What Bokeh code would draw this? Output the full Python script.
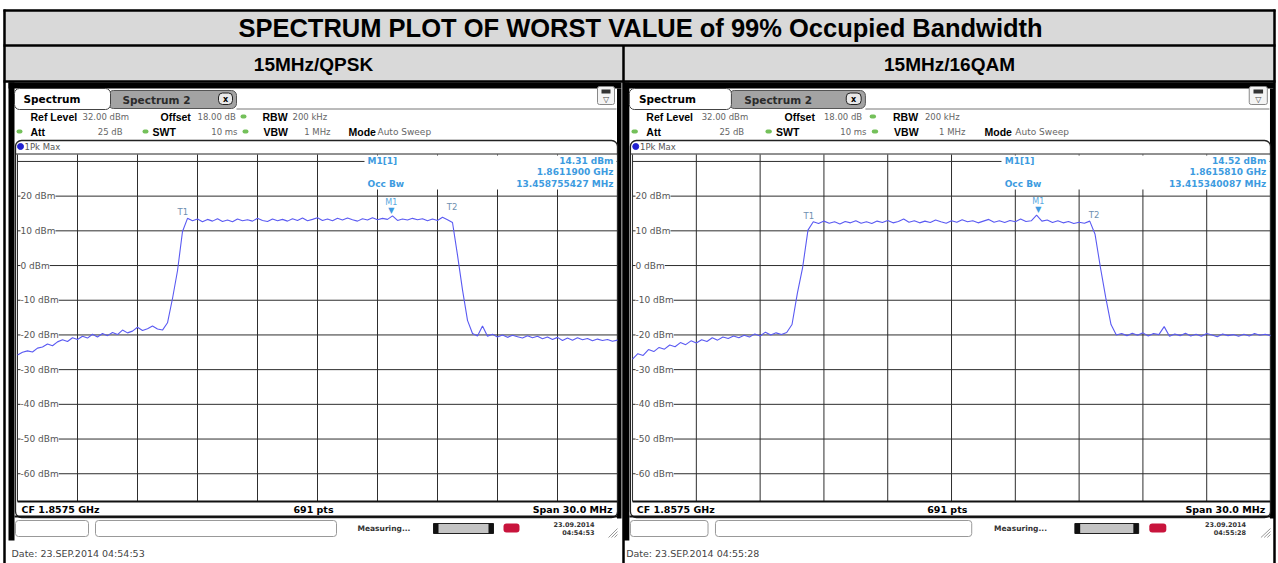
from bokeh.plotting import figure
from bokeh.models import Range1d
from bokeh.embed import file_html
from bokeh.resources import INLINE
from bokeh.core.properties import value

# ---------------- data ----------------
table_title = "SPECTRUM PLOT OF WORST VALUE of 99% Occupied Bandwidth"
panel_titles = ["15MHz/QPSK", "15MHz/16QAM"]

freq_mhz = [
    1842.50, 1842.75, 1843.00, 1843.25, 1843.50, 1843.75, 1844.00, 1844.25, 1844.50, 1844.75,
    1845.00, 1845.25, 1845.50, 1845.75, 1846.00, 1846.25, 1846.50, 1846.75, 1847.00, 1847.25,
    1847.50, 1847.75, 1848.00, 1848.25, 1848.50, 1848.75, 1849.00, 1849.25, 1849.50, 1849.75,
    1850.00, 1850.25, 1850.50, 1850.75, 1851.00, 1851.25, 1851.50, 1851.75, 1852.00, 1852.25,
    1852.50, 1852.75, 1853.00, 1853.25, 1853.50, 1853.75, 1854.00, 1854.25, 1854.50, 1854.75,
    1855.00, 1855.25, 1855.50, 1855.75, 1856.00, 1856.25, 1856.50, 1856.75, 1857.00, 1857.25,
    1857.50, 1857.75, 1858.00, 1858.25, 1858.50, 1858.75, 1859.00, 1859.25, 1859.50, 1859.75,
    1860.00, 1860.25, 1860.50, 1860.75, 1861.00, 1861.25, 1861.50, 1861.75, 1862.00, 1862.25,
    1862.50, 1862.75, 1863.00, 1863.25, 1863.50, 1863.75, 1864.00, 1864.25, 1864.50, 1864.75,
    1865.00, 1865.25, 1865.50, 1865.75, 1866.00, 1866.25, 1866.50, 1866.75, 1867.00, 1867.25,
    1867.50, 1867.75, 1868.00, 1868.25, 1868.50, 1868.75, 1869.00, 1869.25, 1869.50, 1869.75,
    1870.00, 1870.25, 1870.50, 1870.75, 1871.00, 1871.25, 1871.50, 1871.75, 1872.00, 1872.25,
    1872.50,
]

qpsk_dbm = [
    -25.8, -25.0, -24.6, -24.9, -23.8, -23.5, -22.6, -23.1, -22.0, -21.4,
    -21.9, -20.8, -21.3, -20.4, -20.9, -19.8, -20.6, -19.6, -20.2, -19.3,
    -19.9, -18.6, -19.4, -18.9, -17.8, -18.7, -18.2, -17.4, -18.3, -18.6,
    -16.5, -9.5, -1.5, 9.8, 13.6, 12.9, 13.4, 12.6, 13.3, 12.8,
    13.5, 12.7, 13.1, 12.6, 13.4, 12.9, 13.2, 12.8, 13.6, 13.0,
    12.7, 13.4, 12.9, 13.3, 12.8, 13.5, 13.0, 13.7, 12.9, 13.3,
    13.8, 13.0, 13.4, 12.9, 13.6, 13.1, 13.7, 13.2, 12.8, 13.5,
    13.1, 13.8, 13.2, 13.6, 13.3, 14.3, 13.0, 13.4, 13.1, 13.6,
    13.2, 13.5, 12.9, 13.4, 13.0, 13.9, 13.2, 12.4, 3.0, -7.0,
    -15.8, -19.6, -20.3, -17.4, -20.4, -19.8, -20.6, -20.0, -20.7, -20.1,
    -20.5, -20.9, -20.2, -20.8, -20.4, -21.1, -20.6, -21.3, -20.7, -21.6,
    -20.9, -21.5, -20.8, -21.4, -21.0, -21.7, -21.2, -21.6, -21.3, -21.8,
    -21.5,
]

qam16_dbm = [
    -27.0, -25.4, -25.9, -24.2, -24.8, -23.6, -24.1, -22.9, -23.4, -22.2,
    -22.8, -21.7, -22.3, -21.4, -21.9, -20.8, -21.5, -20.6, -21.0, -20.3,
    -20.8, -20.1, -20.6, -19.7, -20.3, -19.2, -20.0, -19.4, -19.9, -19.3,
    -17.0, -8.0, -0.5, 10.2, 12.6, 12.1, 12.8, 12.2, 12.6, 12.0,
    12.7, 12.3, 12.9, 12.2, 12.6, 12.1, 12.8, 12.4, 13.0, 12.3,
    12.7, 13.4, 12.5, 12.9, 12.3, 12.8, 12.4, 13.1, 12.6, 12.2,
    12.9, 12.5, 13.2, 12.6, 12.9, 12.3, 12.8, 13.3, 12.5, 12.9,
    12.4, 13.0, 12.6, 13.4, 12.7, 12.9, 14.5, 12.8, 13.1, 12.4,
    12.9, 12.3, 12.7, 12.1, 12.5, 12.2, 12.8, 9.0, -0.5, -9.2,
    -17.0, -20.0, -19.6, -20.2, -19.5, -20.1, -19.4, -20.3, -19.6, -19.9,
    -17.6, -20.4, -19.7, -20.2, -19.5, -20.3, -19.8, -20.4, -19.6, -20.0,
    -20.5, -19.7, -20.2, -19.9, -20.4, -19.8, -20.3, -19.6, -20.1, -19.8,
    -20.2,
]

f_start, f_stop = 1842.5, 1872.5
ref_level, bottom_level = 32.0, -68.0
grid_freq_mhz = [1842.5, 1845.5, 1848.5, 1851.5, 1854.5, 1857.5, 1860.5, 1863.5, 1866.5, 1869.5, 1872.5]
grid_dbm = [30, 20, 10, 0, -10, -20, -30, -40, -50, -60]
label_dbm = [20, 10, 0, -10, -20, -30, -40, -50, -60]
label_text = ["20 dBm", "10 dBm", "0 dBm", "-10 dBm", "-20 dBm", "-30 dBm", "-40 dBm", "-50 dBm", "-60 dBm"]

traces = [qpsk_dbm, qam16_dbm]
marker_names = ["M1", "T1", "T2"]
marker_freq = [[1861.19, 1850.77, 1864.23], [1861.581, 1850.79, 1864.20]]
marker_dbm = [[14.31, 13.6, 15.0], [14.52, 12.6, 12.8]]
marker_table = [["14.31 dBm", "1.8611900 GHz", "13.458755427 MHz"],
                ["14.52 dBm", "1.8615810 GHz", "13.415340087 MHz"]]
info_row1 = ["Ref Level", "32.00 dBm", "Offset", "18.00 dB", "RBW", "200 kHz"]
info_row2 = ["Att", "25 dB", "SWT", "10 ms", "VBW", "1 MHz", "Mode", "Auto Sweep"]
footer = ["CF 1.8575 GHz", "691 pts", "Span 30.0 MHz"]
stamp_date = ["23.09.2014", "23.09.2014"]
stamp_time = ["04:54:53", "04:55:28"]
date_lines = ["Date: 23.SEP.2014  04:54:53", "Date: 23.SEP.2014  04:55:28"]

# ---------------- figure ----------------
XL, XR, YT, YB = 0.0, 1278.0, 0.0, 563.0
p = figure(width=1278, height=563, x_range=Range1d(XL, XR), y_range=Range1d(YB, YT),
           output_backend="svg", toolbar_location=None, min_border=0)
p.axis.visible = False
p.grid.visible = False
p.outline_line_color = None
p.background_fill_color = "white"
p.border_fill_color = "white"

DV = value("DejaVu Sans")
LS = value("Liberation Sans")


def txt(xs, ys, texts, size, color="black", bold=False, align="left", baseline="middle", font=DV, **kw):
    return p.text(x=xs, y=ys, text=texts, text_font=font, text_font_size=size,
                  text_font_style="bold" if bold else "normal", text_color=color,
                  text_align=align, text_baseline=baseline, **kw)


def box(l, r, t, b, fill, line=None, lw=1, **kw):
    return p.quad(left=[l], right=[r], top=[t], bottom=[b], fill_color=fill,
                  line_color=line, line_width=lw, **kw)


# table header rows
box(3, 1275, 9, 45, "#d9d9d9")
box(3, 1275, 45, 81, "#d9d9d9")
txt([640], [27.5], [table_title], "25.5px", bold=True, align="center", font=LS)
txt([313, 949], [63.5, 63.5], panel_titles, "19px", bold=True, align="center", font=LS)

# panels (instrument screenshots)
panels = [dict(x0=7.0, s=1.0), dict(x0=621.4, s=1.0633)]
GX0, GX1, GY0, GY1 = 17.0, 617.0, 154.0, 501.0
db_per_px = (ref_level - bottom_level) / (GY1 - GY0)
p.extra_y_ranges = {"db": Range1d(ref_level - (YB - GY0) * db_per_px, ref_level + (GY0 - YT) * db_per_px)}

blue = "#3d9be0"
for k, pan in enumerate(panels):
    X = lambda x, pan=pan: pan["x0"] + (x - 7.0) * pan["s"]
    gx0, gx1 = X(GX0), X(GX1)
    mhz_per_px = (f_stop - f_start) / (gx1 - gx0)
    rn = "f%d" % k
    p.extra_x_ranges[rn] = Range1d(f_start - (gx0 - XL) * mhz_per_px, f_stop + (XR - gx1) * mhz_per_px)

    # black screenshot frame
    box(X(8), X(621), 82, 88, "black")
    box(X(8), X(14), 82, 540, "black")
    box(X(616.5), X(621), 88, 518, "black")

    # tabs
    box(X(108), X(236), 90, 108, "#a3a3a3", "#555", 1, border_radius=5)
    txt([X(122)], [99.5], ["Spectrum 2"], "10.5px", color="#2b2b2b", bold=True)
    box(X(218), X(232), 92.5, 104, "#e8e8e8", "#222", 1, border_radius=4)
    txt([X(225)], [98.5], ["x"], "8px", bold=True, align="center")
    box(X(14), X(110), 88, 109, "white", "#444", 1, border_radius=5)
    txt([X(23)], [98.5], ["Spectrum"], "10.5px", bold=True)
    p.segment(x0=[X(236)], y0=[108.5], x1=[X(616)], y1=[108.5], line_color="#777", line_width=1)
    box(X(597), X(614), 86, 104, "#f4f4f4", "#888", 1, border_radius=2)
    box(X(601), X(610), 89, 93, "#333")
    txt([X(605.5)], [99], ["\u25bd"], "8px", color="#444", align="center")

    # settings rows
    txt([X(30), X(160), X(262)], [116] * 3, [info_row1[0], info_row1[2], info_row1[4]], "10.5px", bold=True, font=LS)
    txt([X(82), X(197), X(292)], [116] * 3, [info_row1[1], info_row1[3], info_row1[5]], "8.5px", color="#666")
    txt([X(30), X(152), X(263), X(348)], [131] * 4, [info_row2[0], info_row2[2], info_row2[4], info_row2[6]], "10.5px", bold=True, font=LS)
    txt([X(122), X(237), X(330)], [131] * 3, [info_row2[1], info_row2[3], info_row2[5]], "8.5px", color="#666", align="right")
    txt([X(377)], [131], [info_row2[7]], "9px", color="#666")
    for gx, gy in [(243, 116), (19, 131), (145, 131), (245, 131)]:
        box(X(gx - 3), X(gx + 3), gy - 2, gy + 2, "#74c05a", border_radius=2)

    # trace window
    box(X(15), X(617), 140, 517, None, "#222", 1.3, border_radius=6)
    p.scatter(x=[X(20)], y=[146], size=6, color="#2020d0")
    txt([X(24)], [146], ["1Pk Max"], "8.5px", color="#555")
    p.segment(x0=[X(15)], y0=[153.5], x1=[X(617)], y1=[153.5], line_color="#222", line_width=1)

    # grid through the data scales
    n = len(grid_freq_mhz)
    p.segment(x0=grid_freq_mhz, y0=[ref_level] * n, x1=grid_freq_mhz, y1=[bottom_level] * n,
              x_range_name=rn, y_range_name="db", line_color="#2e2e2e", line_width=1)
    m = len(grid_dbm)
    p.segment(x0=[f_start] * m, y0=grid_dbm, x1=[f_stop] * m, y1=grid_dbm,
              x_range_name=rn, y_range_name="db", line_color="#2e2e2e", line_width=1)
    p.segment(x0=[f_start], y0=[bottom_level], x1=[f_stop], y1=[bottom_level],
              x_range_name=rn, y_range_name="db", line_color="#111", line_width=2)
    txt([f_start] * len(label_dbm), label_dbm, label_text, "9px", color="#555",
        x_offset=3, x_range_name=rn, y_range_name="db", background_fill_color="white")

    # marker table
    box(X(364), X(616), 155, 189, "white")
    txt([X(367), X(367)], [160, 183], ["M1[1]", "Occ Bw"], "9px", color=blue, bold=True)
    txt([X(613)] * 3, [160, 171.5, 183], marker_table[k], "9px", color=blue, bold=True, align="right")

    # trace
    p.line(freq_mhz, traces[k], x_range_name=rn, y_range_name="db", line_color="#5a5af2", line_width=1.1)

    # markers on trace
    mf, md = marker_freq[k], marker_dbm[k]
    txt([mf[0]], [md[0]], ["\u25bc"], "8px", color=blue, align="center", baseline="bottom",
        y_offset=-1, x_range_name=rn, y_range_name="db")
    txt([mf[0]], [md[0]], [marker_names[0]], "8px", color="#5aa8e0", align="center", baseline="bottom",
        y_offset=-9, x_range_name=rn, y_range_name="db")
    txt(mf[1:], md[1:], marker_names[1:], "8.5px", color="#6f8fb0", align="center", baseline="bottom",
        y_offset=-1, x_range_name=rn, y_range_name="db")

    # footer of diagram
    txt([X(21)], [508.5], [footer[0]], "9.5px", bold=True)
    txt([X(313)], [508.5], [footer[1]], "9.5px", bold=True, align="center")
    txt([X(612)], [508.5], [footer[2]], "9.5px", bold=True, align="right")
    p.segment(x0=[X(14)], y0=[516], x1=[X(617)], y1=[516], line_color="#111", line_width=2)

    # status bar
    box(X(15), X(88), 520, 536, "white", "#999", 1, border_radius=3)
    box(X(95), X(336), 520, 536, "white", "#999", 1, border_radius=3)
    txt([X(357)], [528], ["Measuring..."], "7.5px", color="#333", bold=True)
    box(X(433), X(493), 523, 533, "#c4c4c4", "#222", 1)
    box(X(433), X(438), 523, 533, "#111")
    box(X(488), X(493), 523, 533, "#111")
    box(X(503), X(519), 523, 532, "#c8143c", border_radius=3)
    txt([X(594)], [524], [stamp_date[k]], "6.5px", color="#333", bold=True, align="right")
    txt([X(594)], [532], [stamp_time[k]], "6.5px", color="#333", bold=True, align="right")
    p.segment(x0=[X(608), X(611), X(614)], y0=[537, 537, 537], x1=[X(617), X(617), X(617)],
              y1=[528, 531, 534], line_color="#999", line_width=1)

    txt([X(11)], [553], [date_lines[k]], "9.5px", color="#444")

# table lines
p.segment(x0=[3, 3, 3], y0=[10, 45, 81], x1=[1275, 1275, 1275], y1=[10, 45, 81],
          line_color="black", line_width=2.5)
p.segment(x0=[4, 1274, 623], y0=[9, 9, 45], x1=[4, 1274, 623], y1=[563, 563, 563],
          line_color="black", line_width=2.5)

open("out.html", "w").write(file_html(p, INLINE))
